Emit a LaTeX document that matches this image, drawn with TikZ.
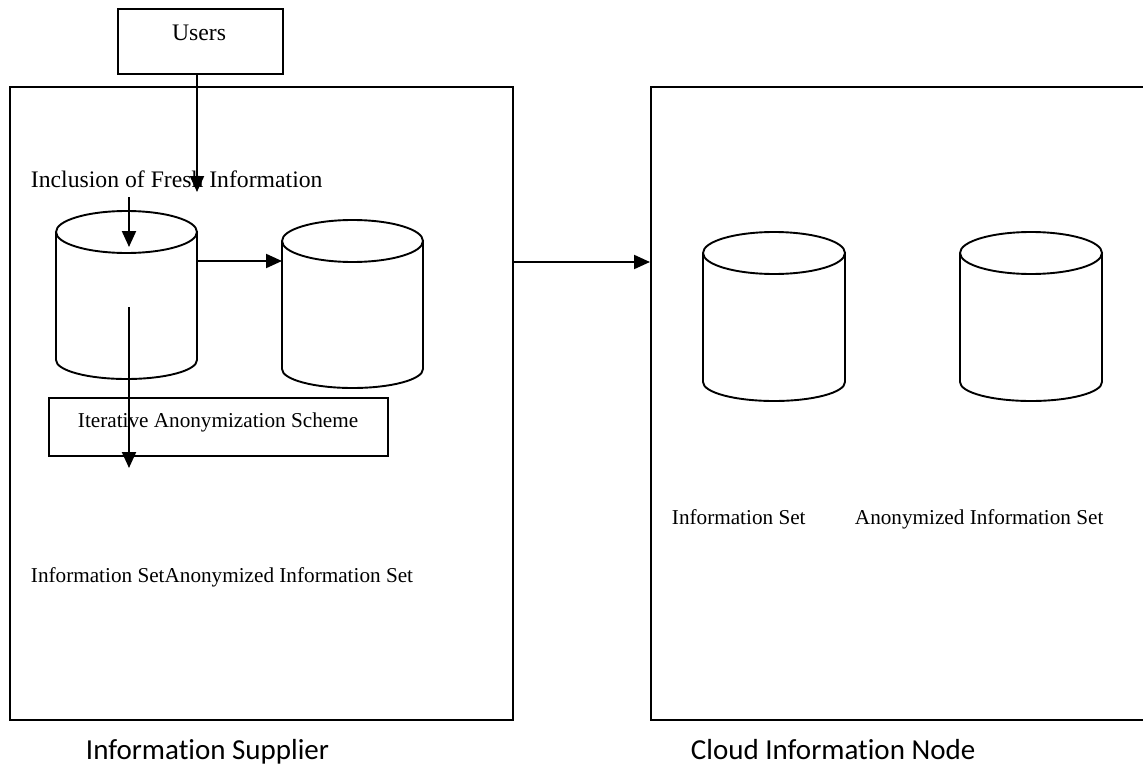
\documentclass[tikz,border=0pt]{standalone}
\usepackage{fontspec}
\setmainfont{Liberation Serif}
\newfontfamily\calfont[Ligatures=NoCommon]{Carlito}
\usetikzlibrary{arrows.meta}
\newcommand\dbcyl[4]{% #1 cx, #2 rx, #3 top cy, #4 bottom cy
  \draw (#1,#3) ellipse [x radius=#2, y radius=21];
  \draw (#1-#2,#3) -- (#1-#2,#4) arc[start angle=180, end angle=0, x radius=#2, y radius=19] -- (#1+#2,#3);
}
\begin{document}
\begin{tikzpicture}[x=1pt,y=-1pt,
  line width=1.9pt,
  box/.style={draw, line width=1.9pt, inner sep=0pt, anchor=north west},
  arr/.style={-{Triangle[length=16pt,width=14pt]}, line width=2.1pt},
  lbl/.style={inner sep=0pt, anchor=base west, font=\fontsize{21.2}{25}\selectfont},
  biglbl/.style={inner sep=0pt, anchor=base west, font=\fontsize{23.7}{27}\selectfont},
  caplbl/.style={inner sep=0pt, anchor=base west, font=\calfont\fontsize{29}{33}\selectfont}]
\useasboundingbox (0,0) rectangle (1143,773);
% frames
\node[box, minimum width=503pt, minimum height=633pt] (supplier) at (9,86) {};
\node[box, minimum width=520pt, minimum height=633pt] (cloud) at (650,86) {};
\node[box, minimum width=165pt, minimum height=65pt] (users) at (117,8) {};
\node[inner sep=0pt, anchor=base, font=\fontsize{23.7}{27}\selectfont] (userstxt) at (199,41) {Users};
\node[box, minimum width=339pt, minimum height=58pt] (scheme) at (48,397) {};
\node[lbl] (schemetxt) at (77,427) {Iterative Anonymization Scheme};
% cylinders
\dbcyl{126.5}{70.5}{232}{360}
\dbcyl{352.5}{70.5}{241}{369}
\dbcyl{774}{71}{253}{382}
\dbcyl{1031}{71}{253}{382}
% texts
\node[biglbl] (fresh) at (30,187) {Inclusion of Fresh Information};
\node[lbl] (leftsets) at (30,582) {Information SetAnonymized Information Set};
\node[lbl] (infoset) at (671,524) {Information Set};
\node[lbl] (anonset) at (854,524) {Anonymized Information Set};
\node[caplbl] (suplbl) at (85,759) {Information Supplier};
\node[caplbl] (cloudlbl) at (690,759) {Cloud Information Node};
% connector ends
\coordinate (freshtip) at (197,192);
\coordinate (intop) at (129,197);
\coordinate (intip) at (129,247);
\coordinate (cyl1out) at (197,261);
\coordinate (cyl2in) at (282,261);
\coordinate (downstart) at (129,307);
\coordinate (downtip) at (129,468);
% connectors
\draw[arr] (users.south -| freshtip) -- (freshtip);
\draw[arr] (intop) -- (intip);
\draw[arr] (cyl1out) -- (cyl2in);
\draw[arr] (downstart) -- (downtip);
\draw[arr] (supplier.east |- 0,262) -- (cloud.west |- 0,262);
\end{tikzpicture}
\end{document}
